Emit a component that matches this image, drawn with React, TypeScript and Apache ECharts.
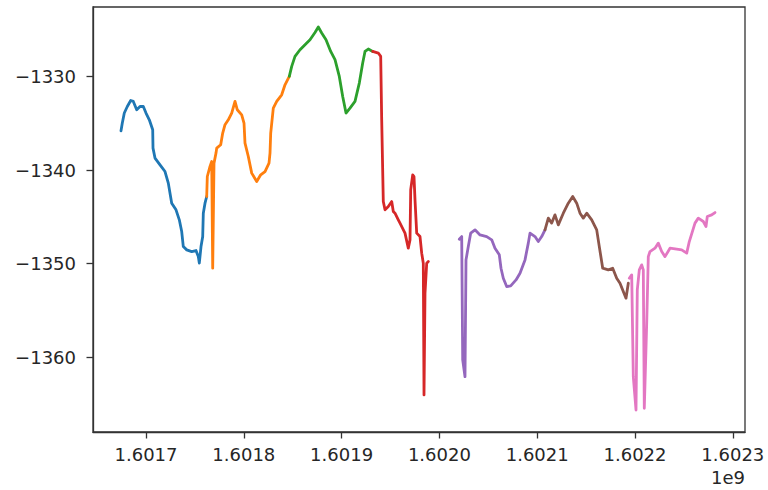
import React, { useEffect, useRef } from "react";
import * as echarts from "echarts";

// Time (epoch seconds) and value per run; each run is drawn in its own colour.
const times0 = [1601674440, 1601675770, 1601677810, 1601680880, 1601684360, 1601687010, 1601690490, 1601693870, 1601697240, 1601700000, 1601703370, 1601706850, 1601707160, 1601709200, 1601714320, 1601719430, 1601722800, 1601726280, 1601730680, 1601734050, 1601736500, 1601738140, 1601741620, 1601746730, 1601751130, 1601753480, 1601754500, 1601756240, 1601757980, 1601758590, 1601760330, 1601762070];
const values0 = [-1335.81, -1334.98, -1333.91, -1333.21, -1332.57, -1332.67, -1333.56, -1333.21, -1333.21, -1333.91, -1334.63, -1335.70, -1337.66, -1338.72, -1339.44, -1340.16, -1341.40, -1343.54, -1344.25, -1345.32, -1346.57, -1348.18, -1348.53, -1348.71, -1348.60, -1349.25, -1349.95, -1348.18, -1347.11, -1344.61, -1343.54, -1342.83];

const times1 = [1601762070, 1601762680, 1601765440, 1601767180, 1601768200, 1601769530, 1601771580, 1601772290, 1601776380, 1601778430, 1601780780, 1601784150, 1601787630, 1601791000, 1601793350, 1601797850, 1601800210, 1601801230, 1601804600, 1601808080, 1601813190, 1601817280, 1601821680, 1601825770, 1601826790, 1601827510, 1601830160, 1601833640, 1601838750, 1601842130, 1601846520];
const values1 = [-1342.83, -1340.69, -1339.62, -1339.09, -1350.49, -1339.26, -1338.19, -1337.66, -1337.30, -1336.05, -1335.16, -1334.63, -1333.91, -1332.67, -1333.56, -1334.10, -1334.98, -1337.12, -1338.55, -1340.33, -1341.23, -1340.51, -1340.16, -1339.26, -1338.19, -1336.05, -1333.38, -1332.67, -1331.96, -1330.89, -1330.00];

const times2 = [1601846520, 1601848980, 1601852350, 1601857470, 1601862580, 1601867690, 1601872800, 1601876180, 1601879650, 1601884050, 1601888860, 1601893250, 1601897650, 1601901130, 1601904500, 1601908590, 1601913700, 1601918100, 1601921580, 1601923930, 1601927300, 1601931800];
const values2 = [-1330.00, -1328.93, -1327.86, -1327.15, -1326.61, -1326.08, -1325.30, -1324.72, -1325.36, -1326.08, -1327.33, -1328.21, -1330.00, -1332.14, -1333.91, -1333.38, -1332.67, -1330.71, -1328.57, -1327.33, -1327.07, -1327.33];

const times3 = [1601931800, 1601937530, 1601939980, 1601941000, 1601942640, 1601944380, 1601947750, 1601951230, 1601952860, 1601954600, 1601957980, 1601959720, 1601964830, 1601968200, 1601969940, 1601970660, 1601972700, 1601974030, 1601975050, 1601976790, 1601980170, 1601981900, 1601983540, 1601984260, 1601985280, 1601987020, 1601988650];
const values3 = [-1327.33, -1327.50, -1327.86, -1334.63, -1343.37, -1344.25, -1343.90, -1343.37, -1344.43, -1344.61, -1345.32, -1345.67, -1346.74, -1348.35, -1347.46, -1342.11, -1340.51, -1340.69, -1343.18, -1346.74, -1347.11, -1348.88, -1349.95, -1364.03, -1353.16, -1349.95, -1349.78];

const times4 = [1602020350, 1602022800, 1602023830, 1602026180, 1602027200, 1602029550, 1602032010, 1602036400, 1602041520, 1602048370, 1602053480, 1602056850, 1602061250, 1602062990, 1602065340, 1602068820, 1602072910, 1602078330, 1602082420, 1602087530, 1602090900, 1602092640, 1602097750, 1602101130, 1602104600, 1602107980];
const values4 = [-1347.39, -1347.11, -1360.29, -1362.08, -1349.60, -1348.18, -1346.74, -1346.39, -1346.93, -1347.11, -1347.46, -1348.35, -1349.06, -1350.49, -1351.56, -1352.45, -1352.38, -1351.74, -1351.02, -1349.60, -1347.81, -1346.74, -1347.11, -1347.64, -1347.11, -1346.39];

const times5 = [1602107980, 1602111350, 1602114830, 1602118200, 1602121580, 1602126690, 1602131800, 1602136300, 1602140390, 1602143770, 1602147140, 1602150620, 1602155730, 1602160840, 1602163500, 1602166980, 1602172700, 1602177200, 1602181290, 1602184670, 1602188040, 1602190800, 1602193150];
const values5 = [-1346.39, -1345.14, -1345.67, -1344.79, -1345.86, -1344.61, -1343.54, -1342.83, -1343.54, -1344.61, -1345.14, -1344.61, -1345.32, -1346.39, -1348.18, -1350.49, -1350.67, -1350.49, -1351.56, -1352.09, -1352.99, -1353.69, -1352.09];

const times6 = [1602194170, 1602196630, 1602198260, 1602201030, 1602202350, 1602204400, 1602206850, 1602208490, 1602209510, 1602211970, 1602213600, 1602215340, 1602220450, 1602223830, 1602227300, 1602230680, 1602235790, 1602242640, 1602247750, 1602252870, 1602255520, 1602261350, 1602264730, 1602269840, 1602272600, 1602273930, 1602278430, 1602281800];
const values6 = [-1351.56, -1351.20, -1362.08, -1365.64, -1352.81, -1350.67, -1350.13, -1350.67, -1365.46, -1356.37, -1349.25, -1348.71, -1348.35, -1347.81, -1348.71, -1349.25, -1348.35, -1348.45, -1348.53, -1348.88, -1347.64, -1345.67, -1345.14, -1345.50, -1346.04, -1344.97, -1344.79, -1344.54];

const runTimes = [times0, times1, times2, times3, times4, times5, times6];
const runValues = [values0, values1, values2, values3, values4, values5, values6];
const runColors = ["#1f77b4", "#ff7f0e", "#2ca02c", "#d62728", "#9467bd", "#8c564b", "#e377c2"];

const xTicks = [1601700000, 1601800000, 1601900000, 1602000000, 1602100000, 1602200000, 1602300000];
const yTicks = [-1360, -1350, -1340, -1330];
const xRange = [1601645800, 1602312480];
const yRange = [-1367.99, -1322.58];
const offsetText = "1e9";

const FONT = "DejaVu Sans";
const INK = "#262626";
const SPINE = "#333333";

export default function App() {
  const ref = useRef<HTMLDivElement>(null);

  useEffect(() => {
    if (!ref.current) return;
    const chart = echarts.init(ref.current, null, { renderer: "svg" });

    const series = runTimes.map((ts, i) => ({
      type: "line",
      data: ts.map((t, j) => [t, runValues[i][j]]),
      showSymbol: false,
      symbol: "none",
      lineStyle: { color: runColors[i], width: 2.8, join: "round", cap: "round" },
      itemStyle: { color: runColors[i] },
      z: 3,
    }));

    chart.setOption({
      animation: false,
      backgroundColor: "#ffffff",
      grid: {
        left: 93,
        top: 7,
        width: 652,
        height: 425,
        show: true,
        borderColor: SPINE,
        borderWidth: 1.3,
        backgroundColor: "transparent",
        containLabel: false,
      },
      xAxis: {
        type: "value",
        min: xRange[0],
        max: xRange[1],
        axisLine: { show: true, lineStyle: { color: SPINE, width: 1.3 } },
        axisTick: {
          show: true,
          length: 6.5,
          customValues: xTicks,
          lineStyle: { color: SPINE, width: 1.3 },
        },
        axisLabel: {
          customValues: xTicks,
          margin: 13,
          fontFamily: FONT,
          fontSize: 18,
          color: INK,
          formatter: (v: number) => (v / 1e9).toFixed(4),
        },
        splitLine: { show: false },
      },
      yAxis: {
        type: "value",
        min: yRange[0],
        max: yRange[1],
        axisLine: { show: true, lineStyle: { color: SPINE, width: 1.3 } },
        axisTick: {
          show: true,
          length: 6.5,
          customValues: yTicks,
          lineStyle: { color: SPINE, width: 1.3 },
        },
        axisLabel: {
          customValues: yTicks,
          margin: 17,
          fontFamily: FONT,
          fontSize: 18,
          color: INK,
          formatter: (v: number) => String(Math.round(v)).replace("-", "\u2212"),
        },
        splitLine: { show: false },
      },
      graphic: [
        {
          type: "text",
          x: 745,
          y: 468,
          style: {
            text: offsetText,
            fontFamily: FONT,
            fontSize: 18,
            fill: INK,
            align: "right",
            verticalAlign: "top",
          },
        },
      ],
      series,
    });

    return () => chart.dispose();
  }, []);

  return (
    <div
      ref={ref}
      style={{ position: "fixed", left: 0, top: 0, width: 768, height: 490, background: "#fff" }}
    />
  );
}
